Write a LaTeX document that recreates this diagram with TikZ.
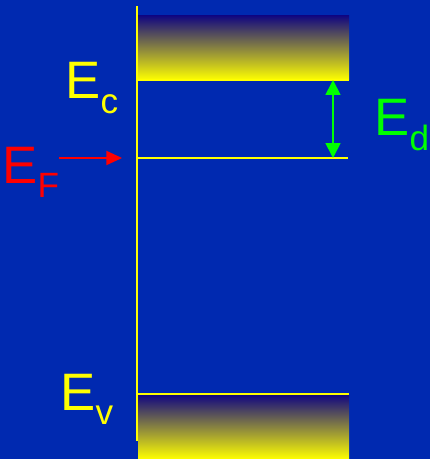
\documentclass[tikz,border=0pt]{standalone}
\definecolor{slideblue}{RGB}{0, 41, 176}
\definecolor{bandnavy}{RGB}{18, 8, 128}
\definecolor{lvlyellow}{RGB}{255, 255, 0}
\definecolor{gapgreen}{RGB}{0, 255, 0}
\definecolor{fermired}{RGB}{255, 0, 0}
\usepackage{fontspec}
\setmainfont{Liberation Sans}
\usepackage{tikz}
\usetikzlibrary{arrows.meta, positioning, calc}
\newcommand{\lvlsym}[1]{E\raisebox{-8pt}{\fontsize{20}{20}\selectfont #1}}
\tikzset{
  lvllabel/.style={anchor=base west, inner sep=0pt, font=\fontsize{30}{30}\selectfont},
  bandbox/.style={top color=bandnavy, bottom color=lvlyellow, draw=none},
  lvlline/.style={draw=lvlyellow, line width=1pt},
  redarrow/.style={-{Triangle[length=9pt, width=8pt]}, fermired, line width=1.1pt},
  gaparrow/.style={{Triangle[length=8.5pt, width=8.5pt]}-{Triangle[length=8.5pt, width=8.5pt]}, gapgreen, line width=1pt},
}

\begin{document}
\begin{tikzpicture}[x=0.02cm, y=-0.02cm]
  \fill[slideblue] (0,0) rectangle (430,459);
  \useasboundingbox (0,0) rectangle (430,459);
  % bands
  \shade[bandbox] (138,16) rectangle (349,80);
  \shade[bandbox] (138,395) rectangle (349,459);
  \coordinate (cb) at (333,80);
  \coordinate (fl) at (137,158);
  \coordinate (fr) at (348,158);
  \coordinate (vl) at (137,394);
  \draw[lvlline] (138,80) -- (349,80);
  \draw[lvlline] (fl) -- (fr);
  \draw[lvlline] (vl) -- (349,394);
  \draw[lvlline] (137,6) -- (137,441);
  % labels
  \node[lvllabel, lvlyellow] (ec) at (65,99) {\lvlsym{c}};
  \node[lvllabel, fermired] (ef) at (2,183) {\lvlsym{F}};
  \node[lvllabel, lvlyellow] (ev) at (60,410) {\lvlsym{v}};
  \node[lvllabel, gapgreen] (ed) at (374,136) {\lvlsym{d}};
  \draw[redarrow, shorten >=8.5pt] (ef.east |- fl) -- (fl);
  \draw[gaparrow] (cb) -- (cb |- fl);
\end{tikzpicture}
\end{document}
